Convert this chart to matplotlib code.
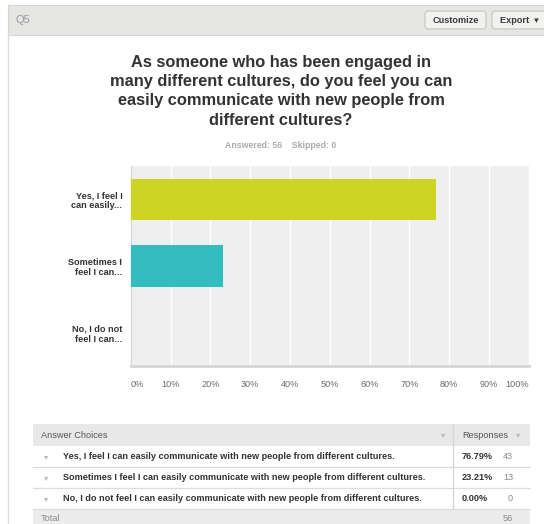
import matplotlib
matplotlib.use("Agg")
import matplotlib.pyplot as plt
from matplotlib.patches import Rectangle, FancyBboxPatch

plt.rcParams["font.family"] = ["Liberation Sans", "DejaVu Sans"]

# survey data
question = "Q5"
title_lines = [
    "As someone who has been engaged in",
    "many different cultures, do you feel you can",
    "easily communicate with new people from",
    "different cultures?",
]
answered = 56
skipped = 0
short_labels = ["Yes, I feel I\ncan easily...", "Sometimes I\nfeel I can...", "No, I do not\nfeel I can..."]
full_labels = [
    "Yes, I feel I can easily communicate with new people from different cultures.",
    "Sometimes I feel I can easily communicate with new people from different cultures.",
    "No, I do not feel I can easily communicate with new people from different cultures.",
]
percents = [76.79, 23.21, 0.00]
counts = [43, 13, 0]
bar_colors = ["#cdd424", "#33bdbf", "#a9a9a9"]
x_ticks = list(range(0, 101, 10))

W, H = 544, 524
fig = plt.figure(figsize=(W / 100, H / 100), dpi=100)

# page overlay in pixel coordinates
page = fig.add_axes([0, 0, 1, 1])
page.set_xlim(0, W)
page.set_ylim(H, 0)
page.axis("off")

# card header
page.add_patch(Rectangle((8, 5), W - 8, 30, facecolor="#e6e6e4", edgecolor="#d6d6d4", lw=0.8))
page.plot([8, 8], [35, H], color="#dcdcdc", lw=1)
page.text(16, 20, question, fontsize=8, color="#9a9a9a", va="center")

for x0, w, label in [(425, 61, "Customize"), (492, 60, "Export  \u25be")]:
    page.add_patch(FancyBboxPatch((x0, 11), w, 18, boxstyle="round,pad=0,rounding_size=3",
                                  facecolor="#f1f1f0", edgecolor="#c4c4c4", lw=0.8))
    page.text(x0 + 8, 20.5, label, fontsize=6.6, fontweight="bold", color="#3a3a3a", va="center",
              family=["Liberation Sans", "DejaVu Sans"])

# title
for i, line in enumerate(title_lines):
    page.text(281, 62 + i * 19.5, line, fontsize=11.8, fontweight="bold", color="#333333",
              ha="center", va="center")
page.text(281, 145, f"Answered: {answered}    Skipped: {skipped}", fontsize=6.3,
          fontweight="bold", color="#ababab", ha="center", va="center")

# bar chart
ax = fig.add_axes([130.7 / W, 1 - 366 / H, 398 / W, 200 / H])
ax.set_facecolor("#efefef")
ypos = list(range(len(percents)))
ax.barh(ypos, percents, height=0.62, color=bar_colors, zorder=3)
ax.set_xlim(0, 100)
ax.set_ylim(len(percents) - 0.5, -0.5)
ax.set_xticks(x_ticks)
ax.set_xticklabels([f"{t}%" for t in x_ticks], fontsize=6.6, color="#6a6a6a")
ax.set_yticks(ypos)
ax.set_yticklabels(short_labels, fontsize=6.6, fontweight="bold", color="#333333",
                   linespacing=1.15)
ax.tick_params(length=0, pad=6)
ax.tick_params(axis="x", pad=10)
ax.grid(axis="x", color="white", lw=1, zorder=1)
ax.set_axisbelow(True)
for side in ["top", "right"]:
    ax.spines[side].set_visible(False)
ax.spines["bottom"].set_color("#d6d6d6")
ax.spines["bottom"].set_linewidth(2)
ax.spines["left"].set_color("#d8d8d8")
ax.spines["left"].set_linewidth(1)
tl = ax.get_xticklabels()
tl[0].set_horizontalalignment("left")
tl[-1].set_horizontalalignment("right")

# summary table
tx0, tx1, tdiv = 33, 530, 453
row_h = 21
hdr_top = 424
fs = 6.55
page.add_patch(Rectangle((tx0, hdr_top), tx1 - tx0, row_h + 0.7, facecolor="#e8e8e8", lw=0))
page.text(tx0 + 8, hdr_top + row_h / 2 + 0.5, "Answer Choices", fontsize=fs, color="#555555", va="center")
page.text(tdiv - 10, hdr_top + row_h / 2 + 0.5, "\u25be", fontsize=6, color="#bbbbbb", va="center",
          ha="center", family="DejaVu Sans")
page.text(tdiv + 9, hdr_top + row_h / 2 + 0.5, "Responses", fontsize=fs, color="#555555", va="center")
page.text(tx1 - 12, hdr_top + row_h / 2 + 0.5, "\u25be", fontsize=6, color="#bbbbbb", va="center",
          ha="center", family="DejaVu Sans")

body_top = hdr_top + row_h + 0.7
for i, (lab, pct, cnt) in enumerate(zip(full_labels, percents, counts)):
    y0 = body_top + i * row_h
    yc = y0 + row_h / 2
    page.plot([tx0, tx1], [y0 + row_h, y0 + row_h], color="#dddddd", lw=0.9)
    page.text(tx0 + 13, yc, "\u25be", fontsize=6, color="#bbbbbb", va="center", ha="center",
              family="DejaVu Sans")
    page.text(tx0 + 30, yc, lab, fontsize=fs, fontweight="bold", color="#333333", va="center")
    page.text(tdiv + 9, yc, f"{pct:.2f}%", fontsize=fs, fontweight="bold", color="#333333", va="center")
    page.text(513, yc, str(cnt), fontsize=fs, color="#8a8a8a", va="center", ha="right")
page.plot([tdiv, tdiv], [hdr_top, body_top + 3 * row_h], color="#d4d4d4", lw=0.9)

tot_top = body_top + 3 * row_h
page.add_patch(Rectangle((tx0, tot_top), tx1 - tx0, H - tot_top, facecolor="#ececec", lw=0))
page.text(tx0 + 8, tot_top + 9.5, "Total", fontsize=fs, color="#8a8a8a", va="center")
page.text(513, tot_top + 9.5, str(sum(counts)), fontsize=fs, color="#8a8a8a", va="center", ha="right")

fig.savefig("out.png", dpi=100)
